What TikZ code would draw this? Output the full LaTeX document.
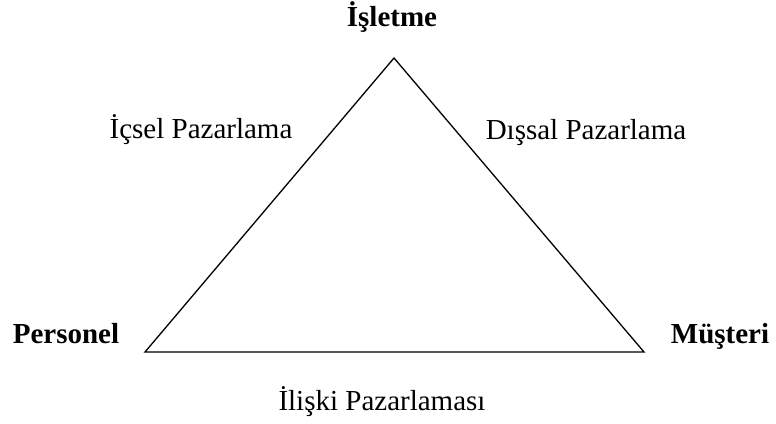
\documentclass[tikz,border=0pt]{standalone}
\usepackage{fontspec}
\setmainfont{Liberation Serif}
\begin{document}
\begin{tikzpicture}[x=1pt,y=-1pt,
  lbl/.style={anchor=base,inner sep=0pt,font=\fontsize{29}{34}\selectfont},
  blbl/.style={lbl,font=\fontsize{29}{34}\selectfont\bfseries},
  edge/.style={line width=1.3pt,line join=miter}]
\useasboundingbox (0,0) rectangle (776,423);
\coordinate (top) at (394,58);
\coordinate (bl) at (145,352);
\coordinate (br) at (644,352);
\draw[edge] (top) -- (bl) -- (br) -- cycle;
\node[blbl] (isl) at (392,27) {İşletme};
\node[blbl] (per) at (66,343) {Personel};
\node[blbl] (mus) at (720,343) {Müşteri};
\node[lbl] (ic) at (201,138) {İçsel Pazarlama};
\node[lbl] (dis) at (586,139) {Dışsal Pazarlama};
\node[lbl] (ili) at (382,410) {İlişki Pazarlaması};
\end{tikzpicture}
\end{document}
